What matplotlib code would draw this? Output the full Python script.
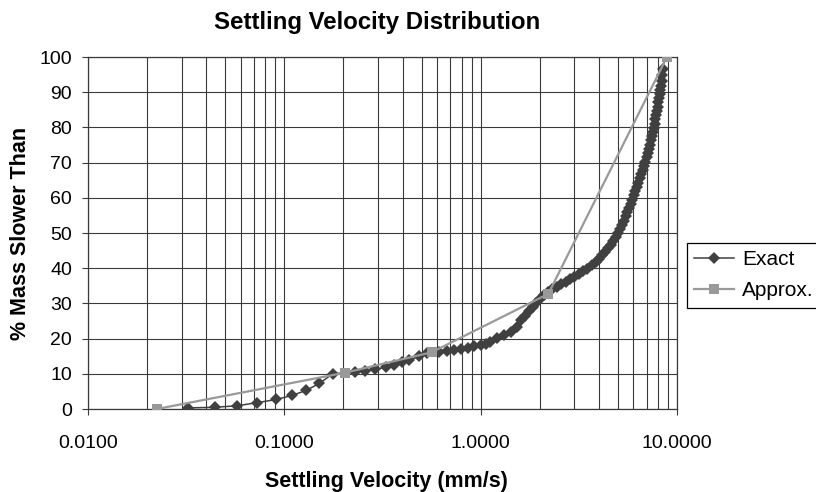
import matplotlib
matplotlib.use('Agg')
import matplotlib.pyplot as plt
from matplotlib.ticker import FixedLocator, LogLocator, NullFormatter

plt.rcParams['font.family'] = ['Liberation Sans', 'DejaVu Sans']

# Exact distribution
exact_x = [0.0325, 0.0441, 0.0574, 0.0726, 0.091, 0.110, 0.1295, 0.151, 0.1765,
           0.230, 0.259, 0.29, 0.328, 0.36, 0.397, 0.434, 0.484, 0.535, 0.61,
           0.675, 0.73, 0.79, 0.86, 0.925, 1.0, 1.06, 1.11, 1.21, 1.31, 1.42,
           1.54, 1.60, 1.68, 1.76, 1.84, 1.92, 2.01, 2.10, 2.20, 2.32, 2.45,
           2.58, 2.72, 2.86, 3.00, 3.15, 3.32, 3.48, 3.68, 3.85, 4.00, 4.15,
           4.30, 4.45, 4.59, 4.73, 4.88, 5.02, 5.14, 5.25, 5.36, 5.47, 5.58,
           5.69, 5.80, 5.91, 6.02, 6.13, 6.24, 6.35, 6.46, 6.57, 6.68, 6.79,
           6.90, 7.00, 7.10, 7.20, 7.29, 7.38, 7.46, 7.54, 7.62, 7.70, 7.77,
           7.84, 7.91, 7.98, 8.04, 8.10, 8.16, 8.22, 8.28, 8.35, 8.43, 8.52]
exact_y = [0.3, 0.5, 0.9, 1.8, 2.7, 3.9, 5.3, 7.3, 10.0,
           10.5, 10.8, 11.3, 11.8, 12.5, 13.3, 13.8, 15.0, 15.8, 16.2,
           16.4, 16.7, 17.0, 17.3, 17.8, 18.2, 18.6, 19.1, 20.1, 21.0, 22.0,
           23.2, 25.3, 26.5, 27.7, 28.9, 30.1, 31.3, 32.3, 33.2, 34.0, 34.7,
           35.4, 36.1, 36.8, 37.5, 38.3, 39.1, 39.9, 40.8, 41.7, 42.7, 43.7,
           44.7, 45.7, 46.7, 47.8, 48.9, 50.0, 51.1, 52.3, 53.5, 54.7, 55.9,
           57.1, 58.3, 59.5, 60.7, 61.9, 63.1, 64.3, 65.5, 66.7, 67.9, 69.1,
           70.3, 71.5, 72.7, 73.9, 75.1, 76.3, 77.5, 78.7, 79.9, 81.1, 82.3,
           83.5, 84.7, 85.9, 87.1, 88.3, 89.5, 90.7, 91.9, 93.1, 94.9, 96.7]

# Approximation
approx_x = [0.0224, 0.203, 0.562, 2.21, 8.89]
approx_y = [0.0, 10.3, 16.1, 32.7, 100.0]

x_ticks = [0.01, 0.1, 1.0, 10.0]
y_ticks = list(range(0, 101, 10))

W, H = 816, 492
fig = plt.figure(figsize=(W / 100, H / 100), dpi=100, facecolor='white')
ax = fig.add_axes([88 / W, 1 - 409 / H, (677 - 88) / W, (409 - 57) / H])

grid_col = '#3a3a3a'
ax.set_xscale('log')
ax.set_xlim(0.01, 10)
ax.set_ylim(0, 100)

ax.plot(exact_x, exact_y, color='#404040', linewidth=1.1, marker='D',
        markersize=6.5, markeredgewidth=0, label='Exact', zorder=3)
ax.plot(approx_x, approx_y, color='#999999', linewidth=1.6, marker='s',
        markersize=7, markeredgewidth=0, label='Approx.', zorder=4)

ax.xaxis.set_major_locator(FixedLocator(x_ticks))
ax.set_xticklabels([f"{v:.4f}" for v in x_ticks])
ax.xaxis.set_minor_locator(LogLocator(base=10, subs=range(2, 10)))
ax.xaxis.set_minor_formatter(NullFormatter())
ax.set_yticks(y_ticks)

ax.grid(True, which='major', color=grid_col, linewidth=0.8)
ax.grid(True, which='minor', axis='x', color=grid_col, linewidth=0.8)
ax.tick_params(axis='x', which='minor', length=0)
ax.tick_params(axis='x', which='major', length=4.5, width=0.8,
               color=grid_col, labelsize=14, pad=14)
ax.tick_params(axis='y', length=4.5, width=0.8, color=grid_col,
               labelsize=14, pad=7)
for s in ax.spines.values():
    s.set_color(grid_col)
    s.set_linewidth(0.9)

fig.text(377 / W, 1 - 22 / H, "Settling Velocity Distribution",
         ha='center', va='center', fontsize=17.3, fontweight='bold')
fig.text(386 / W, 1 - 481 / H, "Settling Velocity (mm/s)",
         ha='center', va='center', fontsize=15.5, fontweight='bold')
fig.text(21 / W, 1 - 233 / H, "% Mass Slower Than", rotation=90,
         ha='center', va='center', fontsize=15.5, fontweight='bold')

leg = ax.legend(loc='upper left', bbox_to_anchor=(686.7 / W, 1 - 242.7 / H),
                bbox_transform=fig.transFigure, frameon=True, fancybox=False,
                edgecolor='black', framealpha=1, borderaxespad=0,
                fontsize=15, handlelength=1.9, handletextpad=0.4,
                borderpad=0.35, labelspacing=0.6)
leg.get_frame().set_linewidth(0.9)

fig.savefig('out.png', dpi=100, facecolor='white')
